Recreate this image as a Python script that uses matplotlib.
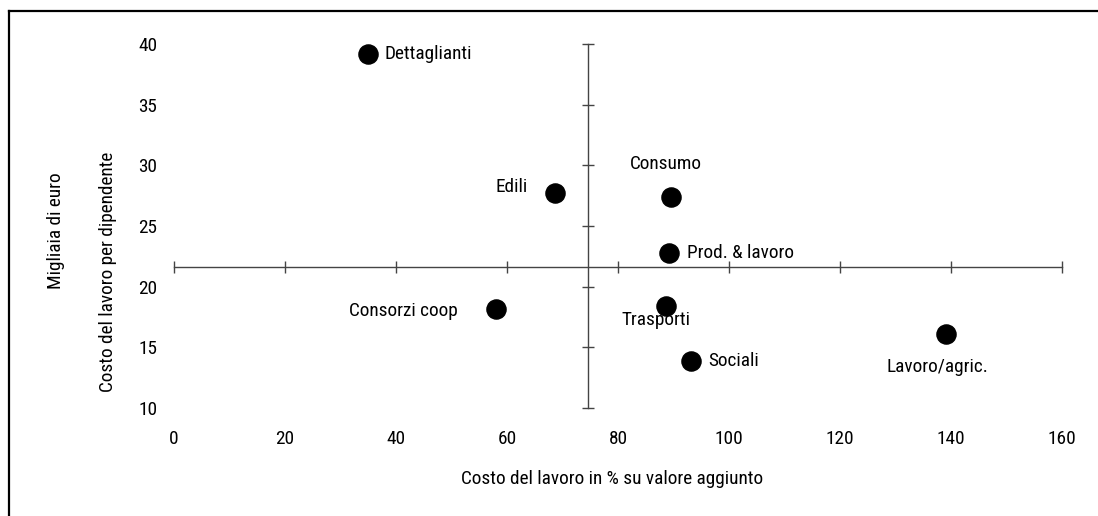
import matplotlib
matplotlib.use("Agg")
import matplotlib.pyplot as plt
from matplotlib import font_manager
from matplotlib.lines import Line2D

# ---- data ----
categories = ["Dettaglianti", "Edili", "Consumo", "Prod. & lavoro",
              "Consorzi coop", "Trasporti", "Sociali", "Lavoro/agric."]
x_values = [35.0, 68.7, 89.6, 89.1, 58.1, 88.7, 93.1, 139.1]
y_values = [39.2, 27.7, 27.4, 22.8, 18.2, 18.4, 13.9, 16.1]
x_ticks = [0, 20, 40, 60, 80, 100, 120, 140, 160]
y_ticks = [10, 15, 20, 25, 30, 35, 40]
x_title = "Costo del lavoro in % su valore aggiunto"
y_title = "Costo del lavoro per dipendente"
y_unit = "Migliaia di euro"
cross_x = 74.6
cross_y = 21.6

# label placement: (dx px, dy px, ha)
label_pos = {
    "Dettaglianti": (16.5, 0, "left"),
    "Edili": (-28, 6, "right"),
    "Consumo": (-5.5, 33, "center"),
    "Prod. & lavoro": (18.5, 0, "left"),
    "Consorzi coop": (-38.5, -2, "right"),
    "Trasporti": (-10, -14, "center"),
    "Sociali": (17.5, 0, "left"),
    "Lavoro/agric.": (-9, -33, "center"),
}

names = {f.name for f in font_manager.fontManager.ttflist}
fam, FS = "Liberation Sans", 12.4
for cand in ("Liberation Sans Narrow", "Arial Narrow", "Roboto Condensed"):
    if cand in names:
        fam, FS = cand, 13.9
        break
plt.rcParams["font.family"] = [fam, "DejaVu Sans"]

W, H = 1098, 516
fig = plt.figure(figsize=(W / 100, H / 100), dpi=100)
pos = [174 / W, (H - 408) / H, (1062 - 174) / W, (408 - 44) / H]

# labels axes (tick labels at the edges)
axl = fig.add_axes(pos)
axl.set_xlim(0, 160)
axl.set_ylim(10, 40)
for s in axl.spines.values():
    s.set_visible(False)
axl.patch.set_visible(False)
axl.set_xticks(x_ticks)
axl.set_yticks(y_ticks)
axl.tick_params(length=0, labelsize=FS)
axl.tick_params(axis="x", pad=16)
axl.tick_params(axis="y", pad=12)

# main axes with crossing spines
ax = fig.add_axes(pos, sharex=axl, sharey=axl)
ax.patch.set_visible(False)
ax.spines["top"].set_visible(False)
ax.spines["right"].set_visible(False)
ax.spines["left"].set_position(("data", cross_x))
ax.spines["bottom"].set_position(("data", cross_y))
axc = "#444444"
for s in ("left", "bottom"):
    ax.spines[s].set_color(axc)
    ax.spines[s].set_linewidth(1.0)
ax.tick_params(direction="inout", length=8.5, width=1.0, color=axc,
               labelleft=False, labelbottom=False)

ax.scatter(x_values, y_values, s=190, color="black", zorder=3, clip_on=False)
for name, xv, yv in zip(categories, x_values, y_values):
    dx, dy, ha = label_pos[name]
    ax.annotate(name, (xv, yv), xytext=(dx * 0.72, dy * 0.72),
                textcoords="offset points", ha=ha, va="center", fontsize=FS)

fig.text(612 / W, 1 - 479 / H, x_title, ha="center", va="center", fontsize=FS)
fig.text(108 / W, 1 - 272 / H, y_title, ha="center", va="center",
         rotation=90, fontsize=FS)
fig.text(56 / W, 1 - 231 / H, y_unit, ha="center", va="center",
         rotation=90, fontsize=FS)

# partial outer frame (top and left)
fig.add_artist(Line2D([9 / W, 1.0], [1 - 10.5 / H, 1 - 10.5 / H],
                      transform=fig.transFigure, color="black", lw=1.6))
fig.add_artist(Line2D([9 / W, 9 / W], [0, 1 - 10.5 / H],
                      transform=fig.transFigure, color="black", lw=1.6))

fig.savefig("out.png", dpi=100)
